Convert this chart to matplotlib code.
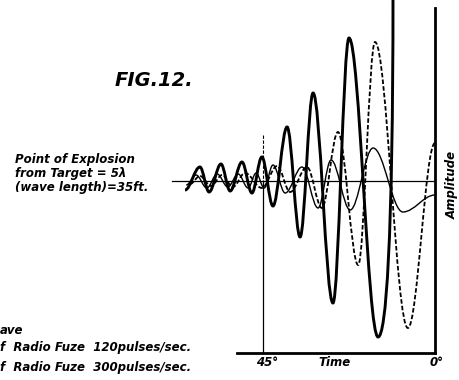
import numpy as np
import matplotlib.pyplot as plt
from matplotlib.path import Path
from matplotlib.patches import PathPatch

W, H = 459, 380
PX_PER_DEG = 3.822   # 45 deg between the two verticals
ZERO_PX = 435        # pixel column of 0 deg

# turning points: (degrees before target, amplitude)
fuze120_deg = [65.4, 61.5, 59.1, 56.0, 53.6, 50.5, 47.9, 45.3, 42.4, 38.7, 35.3, 31.9, 26.7, 22.5, 14.9]
fuze120_amp = [-0.09, 0.14, -0.11, 0.17, -0.10, 0.19, -0.12, 0.24, -0.25, 0.54, -0.56, 0.88, -1.22, 1.43, -1.56]

fuze300_deg = [64.1, 61.5, 58.6, 55.7, 52.9, 49.7, 45.3, 41.3, 37.9, 33.5, 29.6, 25.4, 20.1, 15.7, 7.1, 0.0]
fuze300_amp = [-0.03, 0.05, -0.05, 0.06, -0.06, 0.08, -0.07, 0.15, -0.11, 0.14, -0.27, 0.49, -0.84, 1.39, -1.47, 0.38]

wave_deg = [65.1, 62.5, 59.7, 57.0, 54.2, 51.5, 48.9, 46.8, 44.7, 42.4, 39.2, 34.8, 30.6, 27.2, 22.2, 16.2, 8.4, 0.0]
wave_amp = [-0.04, 0.06, -0.07, 0.07, -0.06, 0.07, -0.07, 0.08, -0.07, 0.16, -0.12, 0.14, -0.27, 0.21, -0.29, 0.33, -0.31, -0.14]


def wave_path(xs, ys, k=0.36):
    # smooth arcs between turning points, flat at each one
    verts = [(xs[0], ys[0])]
    codes = [Path.MOVETO]
    for i in range(len(xs) - 1):
        dx = xs[i + 1] - xs[i]
        verts += [(xs[i] + k * dx, ys[i]), (xs[i + 1] - k * dx, ys[i + 1]), (xs[i + 1], ys[i + 1])]
        codes += [Path.CURVE4] * 3
    return verts, codes


fig = plt.figure(figsize=(W / 100, H / 100), dpi=100)
ax = fig.add_axes([0, 0, 1, 1])
ax.set_xlim(ZERO_PX / PX_PER_DEG, (ZERO_PX - W) / PX_PER_DEG)
ax.set_ylim(-1.99, 1.81)
ax.axis('off')

def deg(px):
    return (ZERO_PX - px) / PX_PER_DEG

def amp(py):
    return (181 - py) / 100

# frame lines
ax.plot([deg(172), 0], [0, 0], color='k', lw=0.9)
ax.plot([45, 45], [amp(135), 0], color='k', lw=0.8, ls=(0, (3, 1.5)))
ax.plot([45, 45], [0, amp(353)], color='k', lw=0.9)
ax.plot([0, 0], [amp(8), amp(353)], color='k', lw=2.0)
ax.plot([deg(237), 0], [amp(353), amp(353)], color='k', lw=2.0)

# thick curve: after its last trough it climbs straight off the top
v, c = wave_path(fuze120_deg, fuze120_amp)
v += [(deg(386), fuze120_amp[-1]), (deg(393), amp(240)), (deg(393), amp(-5))]
c += [Path.CURVE4] * 3
ax.add_patch(PathPatch(Path(v, c), fill=False, lw=2.1, ec='k'))

v, c = wave_path(fuze300_deg, fuze300_amp)
ax.add_patch(PathPatch(Path(v, c), fill=False, lw=1.3, ec='k', ls=(0, (2.5, 1.2))))

v, c = wave_path(wave_deg, wave_amp)
ax.add_patch(PathPatch(Path(v, c), fill=False, lw=1.0, ec='k'))

font = dict(fontweight='bold', fontstyle='italic', color='k')

def label(px, py, s, size=8.5, **kw):
    fig.text(px / W, 1 - py / H, s, fontsize=size, va='center', **font, **kw)

label(115, 80, 'FIG.12.', size=14)
label(15, 160, 'Point of Explosion')
label(15, 174, 'from Target = 5\u03bb')
label(15, 188, '(wave length)=35ft.')
label(0, 330, 'ave')
label(0, 348, 'f  Radio Fuze  120pulses/sec.')
label(0, 367, 'f  Radio Fuze  300pulses/sec.')
label(256, 363, '45\u00b0')
label(318, 363, 'Time')
label(430, 363, '0\u00b0')
fig.text(452 / W, 1 - 185 / H, 'Amplitude', fontsize=8.5, rotation=90,
         ha='center', va='center', **font)

fig.savefig('out.png', dpi=100)
